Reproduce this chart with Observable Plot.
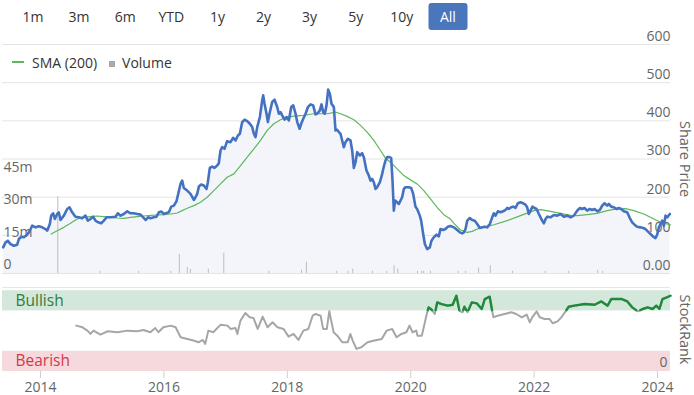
<!DOCTYPE html>
<html><head><meta charset="utf-8">
<script src="https://cdn.jsdelivr.net/npm/d3@7"></script>
<script src="https://cdn.jsdelivr.net/npm/@observablehq/plot@0.6"></script>
<style>
body{margin:0;background:#fff;font-family:"Open Sans",sans-serif;}
#wrap{position:relative;width:694px;height:395px;overflow:hidden;background:#fff;}
.layer{position:absolute;left:0;}
.btn{position:absolute;top:3px;height:27px;line-height:27px;font-size:14px;color:#333;text-align:center;transform:translateX(-50%);border-radius:3px;}
.btn.active{background:#4a76bb;color:#fff;width:39px;}
.legend{position:absolute;top:52px;left:12px;font-size:14px;color:#333;display:flex;align-items:center;height:20px;}
.legend .ln{display:inline-block;width:12px;height:2px;background:#5cb85c;margin-right:8px;}
.legend .sq{display:inline-block;width:6px;height:6px;background:#aaa;margin:4px 7px 0 12px;}
</style></head>
<body><div id="wrap"></div>
<script>
const buttons = ["1m","3m","6m","YTD","1y","2y","3y","5y","10y","All"];
const activeButton = "All";
const priceTicks = [0,100,200,300,400,500,600];
const volumeTicks = [0,15e6,30e6,45e6];
const yearTicks = [2014,2016,2018,2020,2022,2024];
const rankTicks = [0];

const priceYears = [2013.395,2013.433,2013.471,2013.514,2013.568,2013.622,2013.649,2013.687,2013.730,2013.784,2013.827,2013.865,2013.919,2013.973,2014.027,2014.081,2014.108,2014.151,2014.173,2014.205,2014.232,2014.270,2014.297,2014.324,2014.378,2014.432,2014.470,2014.513,2014.567,2014.621,2014.675,2014.729,2014.767,2014.810,2014.853,2014.891,2014.935,2014.983,2015.026,2015.070,2015.135,2015.216,2015.253,2015.297,2015.351,2015.405,2015.459,2015.513,2015.567,2015.621,2015.664,2015.702,2015.745,2015.783,2015.837,2015.880,2015.918,2015.961,2015.999,2016.042,2016.080,2016.118,2016.161,2016.204,2016.231,2016.269,2016.296,2016.323,2016.377,2016.431,2016.485,2016.512,2016.539,2016.566,2016.604,2016.647,2016.690,2016.712,2016.744,2016.782,2016.820,2016.863,2016.890,2016.917,2016.944,2016.982,2017.025,2017.079,2017.123,2017.161,2017.199,2017.231,2017.269,2017.307,2017.350,2017.393,2017.431,2017.458,2017.485,2017.512,2017.555,2017.593,2017.609,2017.631,2017.663,2017.685,2017.717,2017.755,2017.793,2017.836,2017.863,2017.890,2017.917,2017.955,2017.987,2018.025,2018.063,2018.096,2018.134,2018.161,2018.199,2018.225,2018.258,2018.296,2018.334,2018.376,2018.419,2018.457,2018.495,2018.527,2018.554,2018.581,2018.608,2018.635,2018.662,2018.689,2018.716,2018.754,2018.781,2018.808,2018.835,2018.862,2018.889,2018.916,2018.943,2018.981,2019.024,2019.051,2019.078,2019.105,2019.132,2019.175,2019.213,2019.240,2019.283,2019.321,2019.348,2019.375,2019.402,2019.429,2019.456,2019.500,2019.537,2019.564,2019.591,2019.618,2019.656,2019.683,2019.705,2019.726,2019.748,2019.780,2019.807,2019.834,2019.861,2019.888,2019.915,2019.969,2020.007,2020.040,2020.077,2020.104,2020.147,2020.169,2020.202,2020.229,2020.266,2020.309,2020.336,2020.374,2020.417,2020.455,2020.482,2020.525,2020.563,2020.601,2020.644,2020.699,2020.753,2020.796,2020.834,2020.861,2020.888,2020.915,2020.958,2020.996,2021.039,2021.077,2021.120,2021.158,2021.196,2021.239,2021.282,2021.320,2021.347,2021.374,2021.412,2021.455,2021.498,2021.536,2021.563,2021.590,2021.628,2021.661,2021.698,2021.736,2021.779,2021.822,2021.860,2021.887,2021.914,2021.941,2021.974,2022.006,2022.039,2022.077,2022.104,2022.131,2022.158,2022.185,2022.212,2022.266,2022.320,2022.374,2022.428,2022.482,2022.536,2022.590,2022.644,2022.698,2022.742,2022.780,2022.817,2022.860,2022.903,2022.941,2022.979,2023.022,2023.065,2023.103,2023.141,2023.184,2023.211,2023.249,2023.292,2023.335,2023.373,2023.411,2023.454,2023.508,2023.551,2023.589,2023.627,2023.670,2023.724,2023.767,2023.805,2023.842,2023.886,2023.929,2023.967,2023.994,2024.021,2024.048,2024.075,2024.102,2024.129,2024.156,2024.200];
const priceValues = [68.4,81.5,85.9,77.1,72.8,75.4,90.3,96.4,94.7,101.7,112.2,125.3,120.9,123.5,120.9,116.5,112.2,129.7,151.6,157.7,142.8,155.9,160.3,140.2,151.6,169.1,173.5,160.3,148.9,147.2,144.6,151.6,138.4,142.8,148.9,138.4,134.1,131.4,138.4,147.2,147.2,148.9,157.7,151.6,155.9,162.9,157.7,157.7,155.9,154.2,147.2,140.2,147.2,144.6,147.2,148.9,160.3,162.1,155.9,158.6,160.3,175.2,177.8,189.2,208.5,234.7,243.5,224.2,217.2,208.5,192.7,199.7,208.5,227.7,233.0,230.4,221.6,239.1,276.8,280.3,276.8,282.9,289.0,322.3,331.1,326.7,346.8,344.2,355.6,348.6,361.7,366.1,396.7,402.9,399.4,392.4,383.6,366.1,357.3,383.6,409.9,453.6,466.8,444.9,418.6,396.7,423.0,449.3,455.4,436.1,418.6,423.0,414.2,402.9,409.9,401.1,436.1,440.5,418.6,396.7,379.2,392.4,405.5,418.6,436.1,443.1,440.5,416.9,420.4,427.4,443.1,423.0,418.6,440.5,481.7,471.2,444.9,436.1,374.8,376.6,370.5,366.1,348.6,331.1,344.2,352.9,348.6,322.3,276.8,291.7,317.9,309.2,315.3,304.8,269.8,256.6,243.5,247.9,239.1,221.6,226.0,239.1,261.0,280.3,296.0,304.8,304.8,303.0,243.5,164.7,191.0,186.6,182.2,191.0,199.7,221.6,226.0,226.0,224.2,208.5,175.2,169.1,151.6,138.4,103.4,77.1,64.0,68.4,85.9,94.7,101.7,97.3,116.5,113.9,116.5,122.7,124.4,120.9,113.9,107.8,105.2,107.8,116.5,138.4,145.4,140.2,138.4,129.7,119.2,120.9,122.6,120.9,129.7,147.2,157.7,151.6,162.9,160.3,162.9,166.4,171.7,169.1,173.5,175.2,171.7,184.0,186.6,184.0,180.5,173.5,155.9,164.7,175.2,171.7,169.1,155.9,147.2,138.4,131.4,142.8,148.9,147.2,153.3,151.6,155.9,148.9,151.6,147.2,151.6,164.7,171.7,169.1,171.7,164.7,169.1,166.4,169.1,162.9,166.4,177.8,184.0,177.8,182.2,175.2,173.5,169.1,171.7,169.1,162.9,160.3,145.4,134.1,127.9,122.6,120.9,119.2,116.5,110.4,103.4,96.4,92.9,101.7,120.9,129.7,138.4,125.3,151.6,147.2,155.9];

const smaYears = [2014.173,2014.270,2014.378,2014.486,2014.594,2014.702,2014.810,2014.918,2015.026,2015.135,2015.243,2015.351,2015.459,2015.567,2015.675,2015.783,2015.891,2015.999,2016.107,2016.215,2016.296,2016.377,2016.485,2016.593,2016.701,2016.809,2016.917,2017.025,2017.133,2017.242,2017.350,2017.458,2017.566,2017.674,2017.782,2017.890,2017.998,2018.106,2018.215,2018.323,2018.431,2018.539,2018.647,2018.781,2018.862,2018.970,2019.078,2019.186,2019.294,2019.402,2019.510,2019.591,2019.672,2019.780,2019.888,2019.996,2020.104,2020.212,2020.320,2020.428,2020.536,2020.644,2020.699,2020.807,2020.915,2020.996,2021.077,2021.185,2021.347,2021.563,2021.779,2021.995,2022.104,2022.266,2022.428,2022.590,2022.698,2022.860,2023.022,2023.184,2023.346,2023.481,2023.616,2023.778,2023.940,2024.048,2024.156,2024.210];
const smaValues = [103.4,112.2,120.9,131.4,142.8,147.2,148.9,150.6,148.9,147.2,145.4,144.6,147.2,148.9,150.6,152.4,153.3,154.2,155.9,158.6,164.7,170.8,177.8,186.6,199.7,217.2,234.7,252.3,261.0,282.9,304.8,326.7,348.6,374.8,392.4,402.9,409.9,412.5,413.4,416.0,418.6,418.6,418.6,423.0,418.6,411.6,402.9,388.0,370.5,348.6,322.3,302.2,291.7,274.1,256.6,245.3,234.7,217.2,195.3,173.5,154.2,142.7,131.4,113.9,107.8,110.3,116.5,120.9,127.8,138.4,151.6,164.7,167.3,162.9,157.7,152.4,151.6,154.2,157.7,164.7,169.1,170.0,164.7,155.9,142.7,134.1,129.6,127.8];

const volumeYears = [2014.28,2014.96,2015.59,2016.11,2016.25,2016.38,2016.43,2016.72,2016.97,2017.70,2018.23,2018.31,2018.80,2018.98,2019.06,2019.38,2019.61,2019.73,2019.79,2020.11,2020.18,2020.21,2020.32,2020.77,2020.89,2021.10,2021.29,2021.65,2022.18,2022.56,2023.03,2023.11];
const volumeValues = [35.6e6,1.0e6,1.0e6,1.0e6,8.8e6,2.8e6,2.0e6,2.0e6,9.4e6,1.0e6,1.5e6,5.2e6,1.0e6,1.0e6,2.0e6,1.0e6,1.0e6,3.6e6,2.0e6,1.0e6,1.0e6,1.0e6,1.0e6,1.0e6,1.0e6,2.5e6,3.6e6,1.0e6,1.0e6,1.0e6,1.5e6,1.0e6];

const rankYears = [2014.58,2014.68,2014.76,2014.81,2014.86,2014.97,2015.09,2015.25,2015.41,2015.57,2015.67,2015.78,2015.86,2015.91,2015.99,2016.11,2016.19,2016.27,2016.38,2016.48,2016.56,2016.63,2016.67,2016.72,2016.80,2016.92,2017.03,2017.08,2017.16,2017.19,2017.24,2017.32,2017.39,2017.45,2017.52,2017.60,2017.68,2017.76,2017.84,2017.94,2018.02,2018.10,2018.18,2018.26,2018.34,2018.41,2018.46,2018.54,2018.58,2018.64,2018.68,2018.75,2018.81,2018.89,2018.98,2019.02,2019.06,2019.12,2019.20,2019.30,2019.41,2019.53,2019.61,2019.70,2019.77,2019.85,2019.93,2019.98,2020.03,2020.09,2020.11,2020.18,2020.26,2020.29,2020.34,2020.39,2020.43,2020.50,2020.60,2020.68,2020.74,2020.79,2020.84,2020.87,2020.92,2020.99,2021.07,2021.15,2021.20,2021.28,2021.31,2021.34,2021.41,2021.52,2021.63,2021.71,2021.80,2021.88,2021.93,2021.97,2022.04,2022.09,2022.17,2022.25,2022.30,2022.38,2022.44,2022.51,2022.56,2022.65,2022.82,2022.98,2023.09,2023.19,2023.25,2023.42,2023.51,2023.59,2023.68,2023.76,2023.84,2023.92,2023.98,2024.03,2024.08,2024.15,2024.21];
const rankValues = [56.8,54.7,50.6,46.5,50.6,45.7,49.8,48.6,50.6,49.8,51.4,48.6,53.9,48.6,54.7,56.8,54.7,42.4,40.3,38.3,36.2,39.1,34.2,50.6,48.6,58.0,56.8,52.7,53.9,46.5,63.0,72.4,67.1,66.3,52.7,67.9,54.7,60.9,54.7,52.7,43.2,46.5,39.1,50.6,52.7,69.1,71.2,69.1,52.7,52.7,74.5,48.6,44.4,36.2,36.2,46.5,38.3,28.0,30.0,36.2,38.3,40.3,50.6,52.7,42.4,46.5,48.6,56.8,48.6,50.6,44.4,44.4,71.2,79.4,76.5,71.2,85.6,83.5,81.5,82.7,93.8,75.0,73.3,80.2,73.3,85.6,84.4,77.4,89.7,92.6,79.4,67.1,69.1,71.2,73.3,71.2,67.1,70.4,60.9,67.1,74.5,67.1,65.0,65.0,59.7,62.1,67.1,74.5,80.2,81.5,83.5,82.7,86.8,81.5,89.7,89.7,86.8,79.4,74.5,77.4,79.4,77.4,81.5,77.4,89.7,91.8,93.8];
const rankThreshold = 76;

const bandNames = ["Bullish","Bearish"];
const bandLow = [75, 0];
const bandHigh = [100, 25];
const bandFill = ["#d3e8da","#f5d9dc"];
const bandText = ["#2f7d3f","#d2394b"];

// ---- tables built from arrays
const price = priceYears.map((x,i)=>({x, y: priceValues[i]}));
const sma = smaYears.map((x,i)=>({x, y: smaValues[i]}));
const volume = volumeYears.map((x,i)=>({x, v: volumeValues[i]}));
const rank = rankYears.map((x,i)=>({x, r: rankValues[i]}));
const bands = bandNames.map((name,i)=>({name, lo: bandLow[i], hi: bandHigh[i], fill: bandFill[i], text: bandText[i]}));
const green = [];
for (let i=0;i<rank.length;i++){
  const a = rank[i];
  if (i>0){
    const p = rank[i-1];
    if ((p.r>=rankThreshold)!==(a.r>=rankThreshold)){
      const t=(rankThreshold-p.r)/(a.r-p.r);
      const c={x:p.x+t*(a.x-p.x), r:rankThreshold};
      if (a.r>=rankThreshold){ green.push({x:c.x,r:NaN}); green.push(c);} else green.push(c);
    }
  }
  if (a.r>=rankThreshold) green.push(a);
}

const wrap = document.getElementById("wrap");
buttons.forEach((b,i)=>{
  const d=document.createElement("div");
  d.className="btn"+(b===activeButton?" active":"");
  d.style.left=(33+i*46.1)+"px";
  d.textContent=b;
  wrap.appendChild(d);
});

const W=694, xDomain=[2013.384,2024.21];
const font = {fontFamily:'"Open Sans",sans-serif', fontSize:"14px", color:"#666", background:"transparent", overflow:"visible"};
const mainH=250, mainMT=14, mainMB=7;
const mainBase = {width:W, height:mainH, marginLeft:2, marginRight:24, marginTop:mainMT, marginBottom:mainMB, style:font,
  x:{domain:xDomain, axis:null}};

function place(el, top){ el.classList.add("layer"); el.style.top=top+"px"; wrap.appendChild(el); }

// layer A: grid, area, right axis
const A = Plot.plot({...mainBase,
  y:{domain:[0,600], axis:null},
  marks:[
    Plot.gridY(priceTicks,{stroke:"#e4e4e4", strokeOpacity:1}),
    Plot.areaY(price,{x:"x", y:"y", fill:"#f3f5fa"}),
    Plot.axisY(priceTicks,{anchor:"right", label:null, tickSize:0, tickPadding:0, textAnchor:"end", dy:-8, tickFormat:d=>d===0?"0.00":String(d), fontSize:14}),
    Plot.text(["Share Price"],{text:d=>d, frameAnchor:"right", textAnchor:"middle", rotate:90, dx:14, fontSize:14.5, fill:"#666"})
  ]});
place(A,30);

// layer B: volume
const B = Plot.plot({...mainBase,
  y:{domain:[0,106.3e6], axis:null},
  marks:[
    Plot.ruleX(volume,{x:"x", y1:0, y2:"v", stroke:"#bdbdbd", strokeWidth:1}),
    Plot.axisY(volumeTicks,{anchor:"left", label:null, tickSize:0, tickPadding:0, textAnchor:"start", dx:1, dy:-9, tickFormat:d=>d===0?"0":(d/1e6)+"m", fontSize:14})
  ]});
place(B,30);

// layer C: lines
const C = Plot.plot({...mainBase,
  y:{domain:[0,600], axis:null},
  marks:[
    Plot.line(sma,{x:"x", y:"y", stroke:"#5cb85c", strokeWidth:1.2}),
    Plot.line(price,{x:"x", y:"y", stroke:"#4472c0", strokeWidth:2.6})
  ]});
place(C,30);

// bottom: StockRank
const D = Plot.plot({width:W, height:115, marginLeft:2, marginRight:24, marginTop:7, marginBottom:24, style:font,
  x:{domain:xDomain, axis:null},
  y:{domain:[0,104], axis:null},
  marks:[
    Plot.ruleY([104],{stroke:"#e6e6e6"}),
    Plot.rect(bands,{y1:"lo", y2:"hi", fill:"fill"}),
    Plot.text(bands,{y:d=>(d.lo+d.hi)/2, text:"name", fill:"text", frameAnchor:"left", textAnchor:"start", dx:13, fontSize:15.5}),
    Plot.axisX(yearTicks,{label:null, tickSize:7, tickPadding:4, stroke:"#d0d0d0", tickFormat:d=>String(d), fontSize:14, fill:"#666"}),
    Plot.axisY(rankTicks,{anchor:"right", label:null, tickSize:0, tickPadding:0, textAnchor:"end", dx:-3, dy:-9, fontSize:14}),
    Plot.line(rank,{x:"x", y:"r", stroke:"#a6a6a6", strokeWidth:2}),
    Plot.line(green,{x:"x", y:"r", stroke:"#1f8a3c", strokeWidth:2.4}),
    Plot.text(["StockRank"],{text:d=>d, frameAnchor:"right", textAnchor:"middle", rotate:90, dx:14, fontSize:14.5, fill:"#666"})
  ]});
place(D,280);

const lg=document.createElement("div");
lg.className="legend";
lg.innerHTML='<span class="ln"></span><span>SMA (200)</span><span class="sq"></span><span>Volume</span>';
wrap.appendChild(lg);
</script></body></html>
